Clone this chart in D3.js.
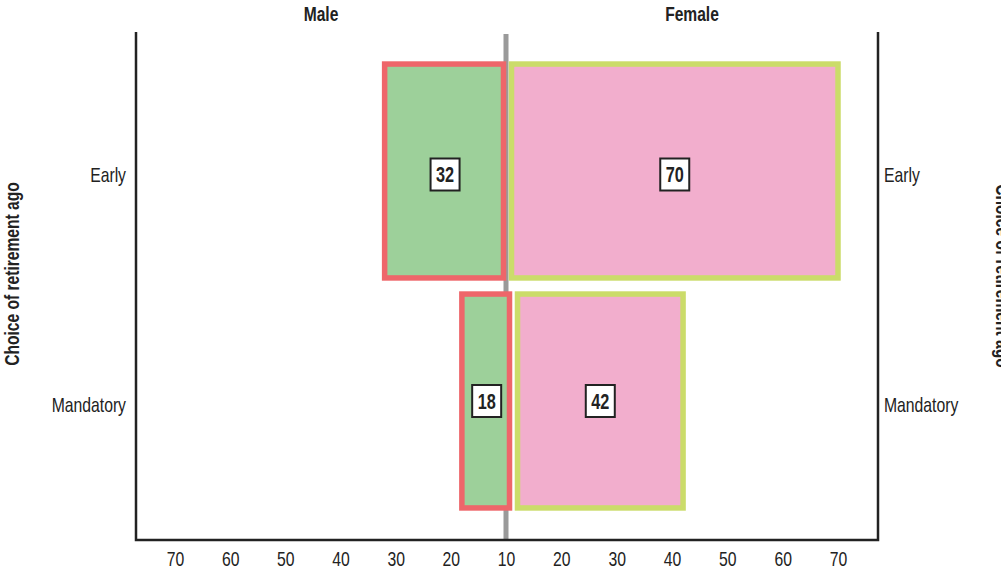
<!DOCTYPE html>
<html>
<head>
<meta charset="utf-8">
<script src="https://cdn.jsdelivr.net/npm/d3@7"></script>
<style>
  html, body { margin: 0; padding: 0; background: #fff; }
  svg { display: block; font-family: "Liberation Sans", Arial, sans-serif; }
</style>
</head>
<body>
<svg id="chart" width="1001" height="571"></svg>
<script>
// Retirement-age choice by sex, drawn as a back-to-back bar chart
const categories = ["Early", "Mandatory"];
const maleValues = [32, 18];
const femaleValues = [70, 42];
const tickValues = [10, 20, 30, 40, 50, 60, 70];
const groupTitles = ["Male", "Female"];
const axisTitle = "Choice of retirement ago";

const plotLeft = 136, plotRight = 878, plotTop = 32, plotBottom = 540;
const center = 506;
// horizontal squeeze that gives the regular sans a condensed look
const narrow = 0.75, narrowBold = 0.8;

const colors = {
  maleFill: "#9dd09a", maleStroke: "#ee666a",
  femaleFill: "#f2aecd", femaleStroke: "#cbdc6a",
  axis: "#222", midline: "#9a9a9a", text: "#222"
};

const svg = d3.select("#chart");

const xMale = d3.scaleLinear().domain([10, 70]).range([center, 175]);
const xFemale = d3.scaleLinear().domain([10, 70]).range([center, 838]);
const y = d3.scaleBand().domain(categories).range([56, 516])
  .paddingInner(0.07).paddingOuter(0.035);

// the two halves meet a little further right on the second row
const rowSplit = { Early: 0, Mandatory: 6 };

const rows = categories.map((c, i) => ({ cat: c, male: maleValues[i], female: femaleValues[i] }));

// centre divider
svg.append("line")
  .attr("x1", center).attr("x2", center)
  .attr("y1", plotTop + 2).attr("y2", plotBottom)
  .attr("stroke", colors.midline).attr("stroke-width", 5);

// bars
const sw = 5.5;
const g = svg.append("g");
rows.forEach(r => {
  const y0 = y(r.cat), bh = y.bandwidth();
  const mx0 = xMale(r.male), mx1 = center - 2.5 + rowSplit[r.cat];
  g.append("rect")
    .attr("x", mx0).attr("y", y0).attr("width", mx1 - mx0).attr("height", bh)
    .attr("fill", colors.maleFill).attr("stroke", colors.maleStroke).attr("stroke-width", sw);
  const fx0 = center + 5.5 + rowSplit[r.cat], fx1 = xFemale(r.female);
  g.append("rect")
    .attr("x", fx0).attr("y", y0).attr("width", fx1 - fx0).attr("height", bh)
    .attr("fill", colors.femaleFill).attr("stroke", colors.femaleStroke).attr("stroke-width", sw);

  // value tags
  [[(mx0 + mx1) / 2 + 1, r.male], [(fx0 + fx1) / 2, r.female]].forEach(([cx, v]) => {
    const cy = y0 + bh / 2 + (r.cat === "Early" ? 3.5 : 0);
    const tag = g.append("g").attr("transform", `translate(${cx},${cy})`);
    tag.append("rect").attr("x", -14.5).attr("y", -16).attr("width", 29).attr("height", 32)
      .attr("fill", "#fff").attr("stroke", "#222").attr("stroke-width", 2);
    tag.append("text").attr("text-anchor", "middle").attr("dy", "0.36em")
      .attr("transform", `scale(0.74,1)`)
      .attr("font-size", 22).attr("font-weight", "bold").attr("fill", "#222").text(v);
  });
});

// frame: left, right and bottom axis lines
svg.append("path")
  .attr("d", `M${plotLeft},${plotTop}V${plotBottom}H${plotRight}V${plotTop}`)
  .attr("fill", "none").attr("stroke", colors.axis).attr("stroke-width", 2.5);

// bottom tick labels
const axisStyle = sel => {
  sel.select(".domain").remove();
  sel.selectAll(".tick line").remove();
  sel.selectAll(".tick text").attr("font-size", 21).attr("fill", colors.text)
    .attr("font-family", null).attr("dy", "0.32em").attr("y", 19)
    .attr("transform", `scale(${narrow},1)`);
};
svg.append("g").attr("transform", `translate(0,${plotBottom})`)
  .call(d3.axisBottom(xMale).tickValues(tickValues).tickSize(0).tickFormat(d3.format("d")))
  .call(axisStyle);
svg.append("g").attr("transform", `translate(0,${plotBottom})`)
  .call(d3.axisBottom(xFemale).tickValues(tickValues.slice(1)).tickSize(0).tickFormat(d3.format("d")))
  .call(axisStyle);

// category labels on both sides
const catL = svg.append("g");
categories.forEach(c => {
  const cy = y(c) + y.bandwidth() / 2 + 4;
  catL.append("text").attr("transform", `translate(${plotLeft - 10},${cy}) scale(${narrow},1)`)
    .attr("dy", "0.35em").attr("text-anchor", "end")
    .attr("font-size", 21).attr("fill", colors.text).text(c);
  catL.append("text").attr("transform", `translate(${plotRight + 6},${cy}) scale(${narrow},1)`)
    .attr("dy", "0.35em").attr("text-anchor", "start")
    .attr("font-size", 21).attr("fill", colors.text).text(c);
});

// group titles
[[(plotLeft + center) / 2, groupTitles[0]], [(center + plotRight) / 2, groupTitles[1]]].forEach(([x, t]) => {
  svg.append("text").attr("transform", `translate(${x},14) scale(${narrowBold},1)`)
    .attr("dy", "0.35em").attr("text-anchor", "middle")
    .attr("font-size", 19.5).attr("font-weight", "bold")
    .attr("fill", colors.text).text(t);
});

// axis titles, left and right (the right one runs off the page edge)
svg.append("text").attr("transform", `translate(19,274) rotate(-90) scale(${narrowBold},1)`)
  .attr("text-anchor", "middle").attr("font-size", 19.5).attr("font-weight", "bold")
  .attr("fill", colors.text).text(axisTitle);
svg.append("text").attr("transform", `translate(996,276) rotate(90) scale(${narrowBold},1)`)
  .attr("text-anchor", "middle").attr("font-size", 19.5).attr("font-weight", "bold")
  .attr("fill", colors.text).text(axisTitle);
</script>
</body>
</html>
